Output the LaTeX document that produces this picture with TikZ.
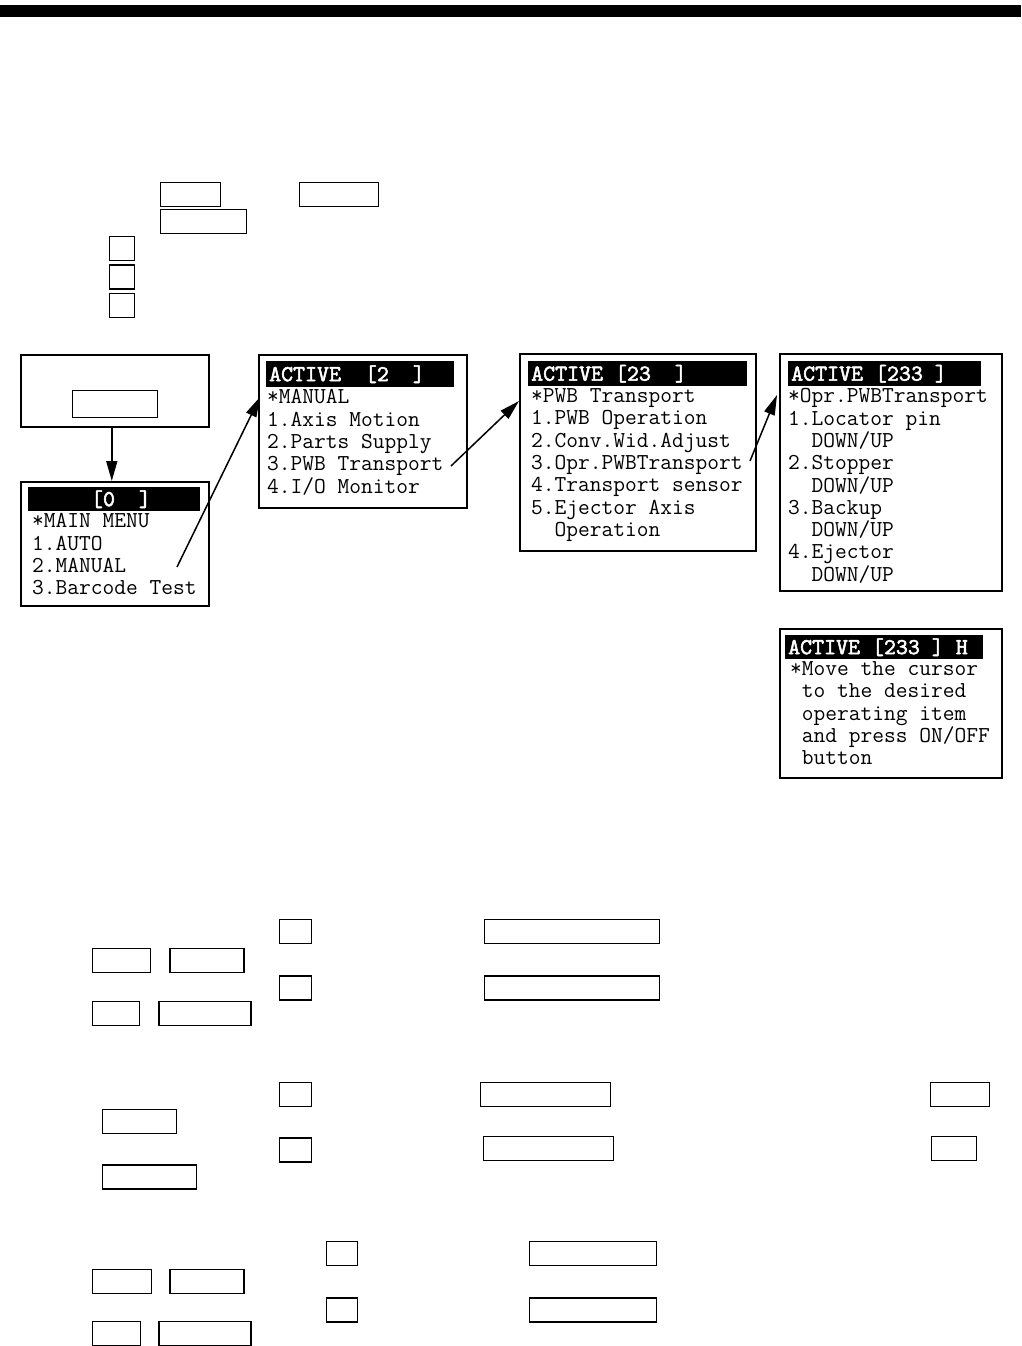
\documentclass[tikz,border=0pt]{standalone}
\usepackage{fontspec}
\usepackage{tikz}
\usetikzlibrary{positioning,arrows.meta}

\newfontfamily\hdrmono{lmmono10-regular}[Extension=.otf,FakeBold=2.2]
\newcommand{\scrfont}{\ttfamily\fontsize{22.8pt}{22.3pt}\selectfont}
\newcommand{\hdrfont}{\hdrmono\fontsize{22.8pt}{22.3pt}\selectfont}
\newcommand{\gap}[1]{\phantom{#1}}
\frenchspacing

\begin{document}
\begin{tikzpicture}[
    x=1pt, y=-1pt,
    key/.style={draw,line width=1.3pt,anchor=north west,inner sep=0pt,minimum height=24pt},
    screen/.style={draw,line width=1.6pt,anchor=north west,inner sep=0pt},
    hdr/.style={fill=black,text=white,anchor=north west,inner xsep=3pt,inner ysep=0pt,align=left,font=\hdrfont},
    lines/.style={anchor=north west,inner sep=0pt,align=left,font=\scrfont,execute at begin node=\strut},
    arr/.style={-{Triangle[length=20pt,width=11pt]},line width=1.5pt}
  ]
    \useasboundingbox (0,0) rectangle (1021,1346);
    \fill (0,5) rectangle (1021,17);

    % Keys at the top
    \node[key,minimum width=60pt] (keyTopA) at (160,182) {};
    \node[key,minimum width=79pt] (keyTopB) at (299,182) {};
    \node[key,minimum width=86pt] (keyTopC) at (160,209) {};
    \node[key,minimum width=25pt] (numA) at (109,236) {};
    \node[key,minimum width=25pt,below=3pt of numA] (numB) {};
    \node[key,minimum width=25pt,below=3pt of numB] (numC) {};

    % Screen 0: start
    \node[screen,minimum width=188pt,minimum height=72pt] (startBox) at (20,354) {};
    \node[key,line width=1pt,minimum width=85pt,minimum height=27pt] (startKey) at (72,390) {};

    % Screen 1: main menu
    \node[screen,minimum width=188pt,minimum height=124pt] (mainBox) at (20,481) {};
    \node[hdr,text width=166pt,minimum height=24pt] (mainHdr) at (28,487) {\gap{00000}[0\gap{00}]};
    \node[lines,below right=2pt and 4pt of mainHdr.south west] (mainTxt)
      {*MAIN MENU\\1.AUTO\\2.MANUAL\\3.Barcode Test};

    % Screen 2: manual
    \node[screen,minimum width=208pt,minimum height=153pt] (manBox) at (258,354) {};
    \node[hdr,text width=182pt,minimum height=26pt] (manHdr) at (266,361) {ACTIVE\gap{00}[2\gap{00}]};
    \node[lines,below right=2pt and 1pt of manHdr.south west] (manTxt)
      {*MANUAL\\1.Axis Motion\\2.Parts Supply\\3.PWB Transport\\4.I/O Monitor};

    % Screen 3: PWB transport
    \node[screen,minimum width=236pt,minimum height=197pt] (pwbBox) at (519,353) {};
    \node[hdr,text width=213pt,minimum height=25pt] (pwbHdr) at (528,361) {ACTIVE\gap{0}[23\gap{00}]};
    \node[lines,below right=2pt and 3pt of pwbHdr.south west] (pwbTxt)
      {*PWB Transport\\1.PWB Operation\\2.Conv.Wid.Adjust\\3.Opr.PWBTransport\\4.Transport sensor\\5.Ejector Axis\\\gap{00}Operation};

    % Screen 4: operation
    \node[screen,minimum width=222pt,minimum height=237pt] (oprBox) at (779,353) {};
    \node[hdr,text width=187pt,minimum height=25pt] (oprHdr) at (788,361) {ACTIVE\gap{0}[233\gap{0}]};
    \node[lines,below right=2pt and 0pt of oprHdr.south west] (oprTxt)
      {*Opr.PWBTransport\\1.Locator pin\\\gap{00}DOWN/UP\\2.Stopper\\\gap{00}DOWN/UP\\3.Backup\\\gap{00}DOWN/UP\\4.Ejector\\\gap{00}DOWN/UP};

    % Screen 5: help
    \node[screen,minimum width=222pt,minimum height=149pt] (helpBox) at (779,628) {};
    \node[hdr,text width=192pt,minimum height=24pt] (helpHdr) at (785,635) {ACTIVE\gap{0}[233\gap{0}]\gap{0}H};
    \node[lines,below right=2pt and 5pt of helpHdr.south west] (helpTxt)
      {*Move the cursor\\\gap{0}to the desired\\\gap{0}operating item\\\gap{0}and press ON/OFF\\\gap{0}button};

    % Arrows
    \coordinate (selManual) at (177,567);
    \coordinate (toManual) at (260,397);
    \coordinate (selPwb) at (451,466);
    \coordinate (toPwb) at (519,401);
    \coordinate (selOpr) at (750,461);
    \coordinate (toOpr) at (777,395);
    \draw[arr] ([xshift=-3pt]startBox.south) -- ([xshift=-3pt]mainBox.north);
    \draw[arr] (selManual) -- (toManual);
    \draw[arr] (selPwb) -- (toPwb);
    \draw[arr] (selOpr) -- (toOpr);

    % Keys, first group
    \node[key,minimum width=58pt] (grpAa) at (92,948) {};
    \node[key,minimum width=74pt,right=18pt of grpAa] (grpAb) {};
    \node[key,minimum width=47pt] (grpAc) at (92,1001) {};
    \node[key,minimum width=92pt,right=18pt of grpAc] (grpAd) {};
    \node[key,minimum width=32pt] (sqAa) at (279,919) {};
    \node[key,minimum width=32pt,below=31pt of sqAa] (sqAb) {};
    \node[key,minimum width=175pt] (longAa) at (484,919) {};
    \node[key,minimum width=175pt,below=31pt of longAa] (longAb) {};

    % Keys, second group
    \node[key,minimum width=74pt] (grpBa) at (102,1109) {};
    \node[key,minimum width=94pt,below=30pt of grpBa.south west,anchor=north west] (grpBb) {};
    \node[key,minimum width=32pt] (sqBa) at (279,1082) {};
    \node[key,minimum width=32pt,below=30pt of sqBa] (sqBb) {};
    \node[key,minimum width=130pt] (midBa) at (480,1082) {};
    \node[key,minimum width=130pt] (midBb) at (483,1136) {};
    \node[key,minimum width=59pt] (rgtBa) at (930,1082) {};
    \node[key,minimum width=45pt] (rgtBb) at (931,1136) {};

    % Keys, third group
    \node[key,minimum width=59pt] (grpCa) at (92,1269) {};
    \node[key,minimum width=74pt,right=17pt of grpCa] (grpCb) {};
    \node[key,minimum width=48pt] (grpCc) at (92,1321) {};
    \node[key,minimum width=92pt,right=17pt of grpCc] (grpCd) {};
    \node[key,minimum width=31pt] (sqCa) at (326,1241) {};
    \node[key,minimum width=31pt,below=31pt of sqCa] (sqCb) {};
    \node[key,minimum width=127pt] (midCa) at (529,1241) {};
    \node[key,minimum width=127pt,below=31pt of midCa] (midCb) {};
  \end{tikzpicture}
\end{document}
